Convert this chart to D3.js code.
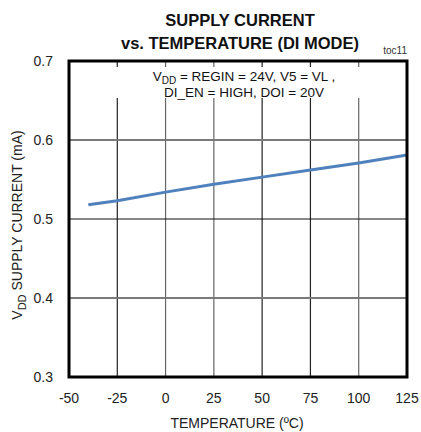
<!DOCTYPE html>
<html><head><meta charset="utf-8">
<script src="https://cdn.jsdelivr.net/npm/d3@7"></script>
<style>body{margin:0;background:#fff}svg{display:block;font-family:"Liberation Sans",Arial,sans-serif}</style>
</head><body>
<svg id="c" width="421" height="432"></svg>
<script>
const temps = [-40, -25, 0, 25, 50, 75, 100, 125];
const current = [0.518, 0.523, 0.534, 0.544, 0.553, 0.562, 0.571, 0.581];
const xTicks = [-50, -25, 0, 25, 50, 75, 100, 125];
const yTicks = [0.3, 0.4, 0.5, 0.6, 0.7];
const titleLines = ["SUPPLY CURRENT", "vs. TEMPERATURE (DI MODE)"];

const svg = d3.select("#c");
const L = 69, R = 407, T = 61, B = 377;
const x = d3.scaleLinear().domain([-50, 125]).range([L, R]);
const y = d3.scaleLinear().domain([0.3, 0.7]).range([B, T]);

// grid
const g = svg.append("g");
g.selectAll(".vg").data(xTicks.slice(1, -1)).join("line")
  .attr("x1", d => x(d)).attr("x2", d => x(d)).attr("y1", T).attr("y2", B)
  .attr("stroke", (d, i) => [0, 3, 4].includes(i) ? "#222" : "#666").attr("stroke-width", 1.2);
g.selectAll(".hg").data(yTicks.slice(1, -1)).join("line")
  .attr("x1", L).attr("x2", R).attr("y1", d => y(d)).attr("y2", d => y(d))
  .attr("stroke", d => d === 0.5 ? "#111" : "#7a7a7a").attr("stroke-width", d => d === 0.5 ? 1.2 : 1.8);
// blank area behind annotation
svg.append("rect").attr("x", L + 2).attr("y", T + 6).attr("width", R - L - 4).attr("height", 31).attr("fill", "#fff");

// data line
svg.append("path").datum(temps.map((t, i) => [t, current[i]]))
  .attr("d", d3.line().x(d => x(d[0])).y(d => y(d[1])))
  .attr("fill", "none").attr("stroke", "#4f81bd").attr("stroke-width", 3);

// frame
svg.append("rect").attr("x", L).attr("y", T).attr("width", R - L).attr("height", B - T)
  .attr("fill", "none").attr("stroke", "#000").attr("stroke-width", 3);

// axes labels
svg.append("g").selectAll("text").data(yTicks).join("text")
  .attr("x", 53).attr("y", d => y(d) + 5).attr("text-anchor", "end")
  .attr("font-size", 14).attr("fill", "#222").text(d => d.toFixed(1));
svg.append("g").selectAll("text").data(xTicks).join("text")
  .attr("x", d => x(d)).attr("y", 403).attr("text-anchor", "middle")
  .attr("font-size", 14).attr("fill", "#222").text(d => d);

svg.append("text").attr("x", 237).attr("y", 428).attr("text-anchor", "middle")
  .attr("font-size", 14).attr("fill", "#222").text("TEMPERATURE (ºC)");

const yt = svg.append("text").attr("transform", "translate(22,225) rotate(-90)")
  .attr("text-anchor", "middle").attr("font-size", 14).attr("fill", "#222");
yt.append("tspan").text("V");
yt.append("tspan").attr("dy", 4).attr("font-size", 11).text("DD");
yt.append("tspan").attr("dy", -4).text(" SUPPLY CURRENT (mA)");

// title
svg.append("g").selectAll("text").data(titleLines).join("text")
  .attr("x", 240).attr("y", (d, i) => 26 + i * 23).attr("text-anchor", "middle")
  .attr("font-size", 16.5).attr("font-weight", "bold").attr("fill", "#111").text(d => d);

svg.append("text").attr("x", 407).attr("y", 54).attr("text-anchor", "end")
  .attr("font-size", 10).attr("fill", "#333").text("toc11");

// annotation
const a1 = svg.append("text").attr("x", 244).attr("y", 81).attr("text-anchor", "middle")
  .attr("font-size", 13.5).attr("fill", "#111");
a1.append("tspan").text("V");
a1.append("tspan").attr("dy", 3).attr("font-size", 10).text("DD");
a1.append("tspan").attr("dy", -3).text(" = REGIN = 24V, V5 = VL ,");
svg.append("text").attr("x", 244).attr("y", 97).attr("text-anchor", "middle")
  .attr("font-size", 13.5).attr("fill", "#111").text("DI_EN = HIGH, DOI = 20V");
</script>
</body></html>
